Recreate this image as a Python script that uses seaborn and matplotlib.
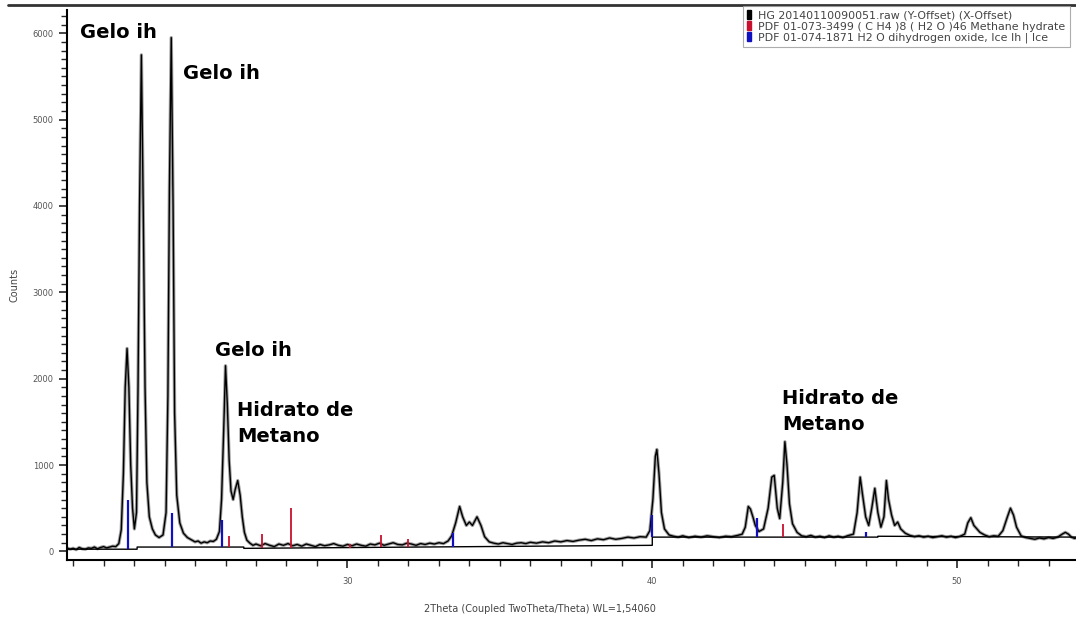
import numpy as np
import matplotlib
matplotlib.use("Agg")
import matplotlib.pyplot as plt
from matplotlib.lines import Line2D
from matplotlib.patches import Patch
import seaborn as sns
import pandas as pd

two_theta = [20.8, 20.9, 21.0, 21.1, 21.2, 21.3, 21.4, 21.5, 21.6, 21.7, 21.8, 21.9, 22.0, 22.1,
             22.2, 22.3, 22.4, 22.5, 22.58, 22.65, 22.71, 22.77, 22.83, 22.89, 22.95, 23.01, 23.08,
             23.13, 23.18, 23.24, 23.3, 23.36, 23.42, 23.5, 23.6, 23.7, 23.82, 23.95, 24.05, 24.11,
             24.16, 24.22, 24.28, 24.33, 24.4, 24.5, 24.62, 24.75, 24.9, 25.0, 25.1, 25.2, 25.3, 25.4,
             25.5, 25.6, 25.7, 25.8, 25.87, 25.94, 26.0, 26.06, 26.12, 26.18, 26.25, 26.32, 26.4,
             26.48, 26.55, 26.62, 26.7, 26.8, 26.9, 27.0, 27.15, 27.3, 27.45, 27.6, 27.75, 27.9,
             28.05, 28.2, 28.35, 28.5, 28.65, 28.8, 28.95, 29.1, 29.25, 29.4, 29.55, 29.7, 29.85,
             30.0, 30.15, 30.3, 30.45, 30.6, 30.75, 30.9, 31.05, 31.2, 31.35, 31.5, 31.65, 31.8,
             31.95, 32.1, 32.25, 32.4, 32.55, 32.7, 32.85, 33.0, 33.15, 33.3, 33.42, 33.55, 33.68,
             33.78, 33.9, 34.0, 34.1, 34.25, 34.38, 34.5, 34.65, 34.8, 34.95, 35.1, 35.25, 35.4,
             35.55, 35.7, 35.85, 36.0, 36.2, 36.4, 36.6, 36.8, 37.0, 37.2, 37.4, 37.6, 37.8, 38.0,
             38.2, 38.4, 38.6, 38.8, 39.0, 39.2, 39.4, 39.6, 39.8, 39.92, 40.02, 40.1, 40.15, 40.22,
             40.3, 40.4, 40.55, 40.7, 40.85, 41.0, 41.2, 41.4, 41.6, 41.8, 42.0, 42.2, 42.4, 42.6,
             42.8, 42.95, 43.05, 43.15, 43.22, 43.3, 43.38, 43.5, 43.65, 43.8, 43.92, 44.0, 44.1,
             44.18, 44.28, 44.35, 44.42, 44.5, 44.6, 44.75, 44.9, 45.05, 45.2, 45.35, 45.5, 45.65,
             45.8, 45.95, 46.1, 46.25, 46.4, 46.6, 46.72, 46.82, 46.9, 47.0, 47.1, 47.2, 47.3, 47.4,
             47.5, 47.6, 47.68, 47.75, 47.85, 47.95, 48.05, 48.15, 48.3, 48.45, 48.6, 48.75, 48.9,
             49.05, 49.2, 49.35, 49.5, 49.65, 49.8, 49.95, 50.1, 50.25, 50.35, 50.45, 50.55, 50.65,
             50.75, 50.9, 51.05, 51.2, 51.35, 51.5, 51.65, 51.75, 51.85, 51.95, 52.1, 52.25, 52.4,
             52.55, 52.7, 52.85, 53.0, 53.15, 53.3, 53.45, 53.55, 53.65, 53.75, 53.85, 53.95]
counts = [40, 25, 35, 20, 45, 30, 25, 40, 35, 50, 30, 45, 55, 40,
          50, 60, 55, 90, 250, 900, 1900, 2350, 1900, 1000, 500, 260, 450,
          1900, 4000, 5750, 4000, 1900, 800, 400, 260, 190, 160, 190, 450, 1800,
          4200, 5950, 4000, 1600, 650, 330, 210, 160, 130, 110, 120, 95, 110, 100,
          120, 115, 140, 230, 600, 1400, 2150, 1700, 1050, 700, 600, 720, 820,
          650, 400, 220, 130, 95, 70, 85, 65, 90, 70, 55, 85, 70,
          90, 65, 80, 60, 85, 70, 55, 80, 65, 75, 90, 70, 60,
          80, 65, 85, 70, 60, 85, 75, 95, 70, 85, 100, 80, 75,
          95, 85, 70, 90, 80, 95, 85, 100, 90, 120, 180, 330, 520,
          400, 300, 340, 300, 400, 300, 170, 110, 95, 85, 100, 90, 80,
          95, 100, 90, 105, 95, 110, 100, 120, 110, 125, 115, 130, 140, 125,
          145, 135, 155, 140, 150, 165, 155, 170, 165, 240, 600, 1100, 1180, 900,
          450, 260, 190, 175, 165, 180, 160, 175, 165, 180, 170, 160, 175, 170,
          185, 200, 280, 520, 490, 400, 300, 230, 260, 500, 860, 880, 500,
          380, 800, 1270, 1000, 550, 320, 220, 180, 170, 185, 165, 175, 160,
          180, 165, 175, 160, 180, 200, 450, 860, 650, 400, 300, 500, 730, 450,
          280, 400, 820, 600, 420, 300, 340, 260, 210, 185, 170, 180, 165,
          175, 160, 170, 180, 165, 175, 160, 175, 200, 330, 390, 300, 260,
          220, 190, 170, 180, 175, 240, 400, 500, 420, 280, 180, 160, 150,
          140, 155, 145, 160, 150, 165, 200, 220, 200, 165, 150, 160]

# stepped background
bg_x = [20.8, 23.1, 23.1, 26.6, 26.6, 40.0, 40.0, 47.4, 47.4, 54.0]
bg_y = [25, 25, 50, 50, 35, 70, 165, 165, 175, 165]

# reference sticks
ice_pos = [22.8, 24.25, 25.9, 33.45, 40.0, 43.45, 47.0]
ice_int = [600, 450, 360, 210, 420, 390, 220]
hyd_pos = [26.1, 27.2, 28.15, 30.1, 31.1, 32.0, 44.3]
hyd_int = [180, 200, 500, 90, 190, 140, 320]

legend_labels = ["HG 20140110090051.raw (Y-Offset) (X-Offset)",
                 "PDF 01-073-3499 ( C H4 )8 ( H2 O )46 Methane hydrate",
                 "PDF 01-074-1871 H2 O dihydrogen oxide, Ice Ih | Ice"]

sns.set_style("ticks")
plt.rcParams["font.family"] = ["DejaVu Sans"]

fig = plt.figure(figsize=(10.76, 6.22), dpi=100)
ax = fig.add_axes([67 / 1076, 62 / 622, 1 - 67 / 1076, 550 / 622])

df = pd.DataFrame({"x": two_theta, "y": counts})
sns.lineplot(data=df, x="x", y="y", ax=ax, color="#a0a0a0", lw=2.4, estimator=None, sort=False)
sns.lineplot(data=df, x="x", y="y", ax=ax, color="black", lw=1.0, estimator=None, sort=False)
ax.plot(bg_x, bg_y, color="black", lw=1.0)

ice_base = np.interp(ice_pos, bg_x, bg_y)
hyd_base = np.interp(hyd_pos, bg_x, bg_y)
ax.vlines(hyd_pos, hyd_base, hyd_int, color="#c8102e", lw=1.3)
ax.vlines(ice_pos, ice_base, ice_int, color="#1010c0", lw=1.6)

ax.set_xlim(20.8, 53.9)
ax.set_ylim(-100, 6270)
ax.set_xticks([30, 40, 50])
ax.set_xticks(np.arange(21, 54, 1), minor=True)
ax.set_yticks(np.arange(0, 7000, 1000))
ax.set_yticks(np.arange(0, 6300, 100), minor=True)
ax.tick_params(axis="both", which="major", length=6, width=1.2, labelsize=6, labelcolor="#555555")
ax.tick_params(axis="x", which="major", pad=6)
ax.tick_params(axis="both", which="minor", length=4, width=1.0)
for s in ["top", "right"]:
    ax.spines[s].set_visible(False)
for s in ["left", "bottom"]:
    ax.spines[s].set_linewidth(1.5)
    ax.spines[s].set_color("black")

ax.set_xlabel("2Theta (Coupled TwoTheta/Theta) WL=1,54060", fontsize=7, color="#444444")
ax.set_ylabel("Counts", fontsize=7, color="#444444")
ax.xaxis.set_label_coords((540 - 67) / 1009, -0.08)
ax.yaxis.set_label_coords(-(67 - 20) / 1009, 0.5)

bold = dict(fontsize=14, fontweight="bold", color="black", va="center", ha="left")
ax.text(21.23, 6014, "Gelo ih", **bold)
ax.text(24.62, 5540, "Gelo ih", **bold)
ax.text(25.67, 2330, "Gelo ih", **bold)
ax.text(26.39, 1483, "Hidrato de\nMetano", linespacing=1.5, **bold)
ax.text(44.26, 1622, "Hidrato de\nMetano", linespacing=1.5, **bold)

handles = [Patch(color="black"), Patch(color="#c8102e"), Patch(color="#1010c0")]
leg = fig.legend(handles, legend_labels, loc="upper right", bbox_to_anchor=(1070 / 1076, 1 - 6 / 622),
                 fontsize=7.9, handlelength=0.3, handleheight=0.9, handletextpad=0.7, labelspacing=0.05,
                 frameon=True, fancybox=False, borderpad=0.4, borderaxespad=0)
leg.get_frame().set_edgecolor("#999999")
leg.get_frame().set_linewidth(0.8)
for t in leg.get_texts():
    t.set_color("#444444")

fig.add_artist(Line2D([8 / 1076, 1], [1 - 5 / 622] * 2, transform=fig.transFigure, color="#333333", lw=2))

fig.savefig("out.png", dpi=100)
